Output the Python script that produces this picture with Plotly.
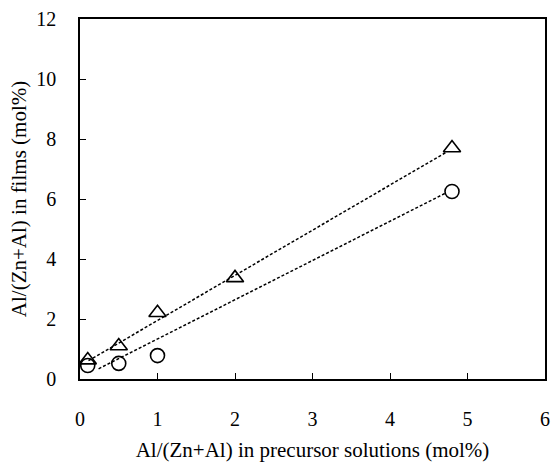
import plotly.graph_objects as go

# data
tri_x = [0.1, 0.5, 1.0, 2.0, 4.8]
tri_y = [0.63, 1.1, 2.21, 3.37, 7.7]
cir_x = [0.1, 0.5, 1.0, 4.8]
cir_y = [0.45, 0.52, 0.78, 6.25]
fit_tri_x = [0.11, 4.72]
fit_tri_y = [0.61, 7.55]
fit_cir_x = [0.24, 4.72]
fit_cir_y = [0.34, 6.2]
x_ticks = [0, 1, 2, 3, 4, 5, 6]
y_ticks = [0, 2, 4, 6, 8, 10, 12]

font_family = "Liberation Serif"

fig = go.Figure()
fig.add_trace(go.Scatter(x=fit_tri_x, y=fit_tri_y, mode="lines",
                         line=dict(color="black", width=1.5, dash="3px,2px"), showlegend=False))
fig.add_trace(go.Scatter(x=fit_cir_x, y=fit_cir_y, mode="lines",
                         line=dict(color="black", width=1.5, dash="3px,2px"), showlegend=False))
fig.add_trace(go.Scatter(x=tri_x, y=tri_y, mode="markers",
                         marker=dict(symbol="triangle-up-open", size=15, color="black",
                                     line=dict(width=1.6, color="black")), showlegend=False))
fig.add_trace(go.Scatter(x=cir_x, y=cir_y, mode="markers",
                         marker=dict(symbol="circle-open", size=14, color="black",
                                     line=dict(width=1.6, color="black")), showlegend=False))

fig.update_layout(
    width=552, height=462,
    margin=dict(l=80, r=7, t=19, b=83),
    paper_bgcolor="white", plot_bgcolor="white",
    font=dict(family=font_family, size=20, color="black"),
    xaxis=dict(range=[0, 6], tickvals=x_ticks, ticks="inside", ticklen=6,
               tickcolor="black", showline=True, linecolor="black", linewidth=1.5,
               mirror=True, showgrid=False, zeroline=False, ticklabelstandoff=21,
               tickfont=dict(size=20), automargin=False,
               title=dict(text="Al/(Zn+Al) in precursor solutions (mol%)", standoff=15,
                          font=dict(size=21))),
    yaxis=dict(range=[0, 12], tickvals=y_ticks, ticks="inside", ticklen=6,
               tickcolor="black", showline=True, linecolor="black", linewidth=1.5,
               mirror=True, showgrid=False, zeroline=False, ticklabelstandoff=18,
               tickfont=dict(size=20), automargin=False,
               title=dict(text="Al/(Zn+Al) in films (mol%)", standoff=4,
                          font=dict(size=21))),
)

fig.write_html("out.html")
